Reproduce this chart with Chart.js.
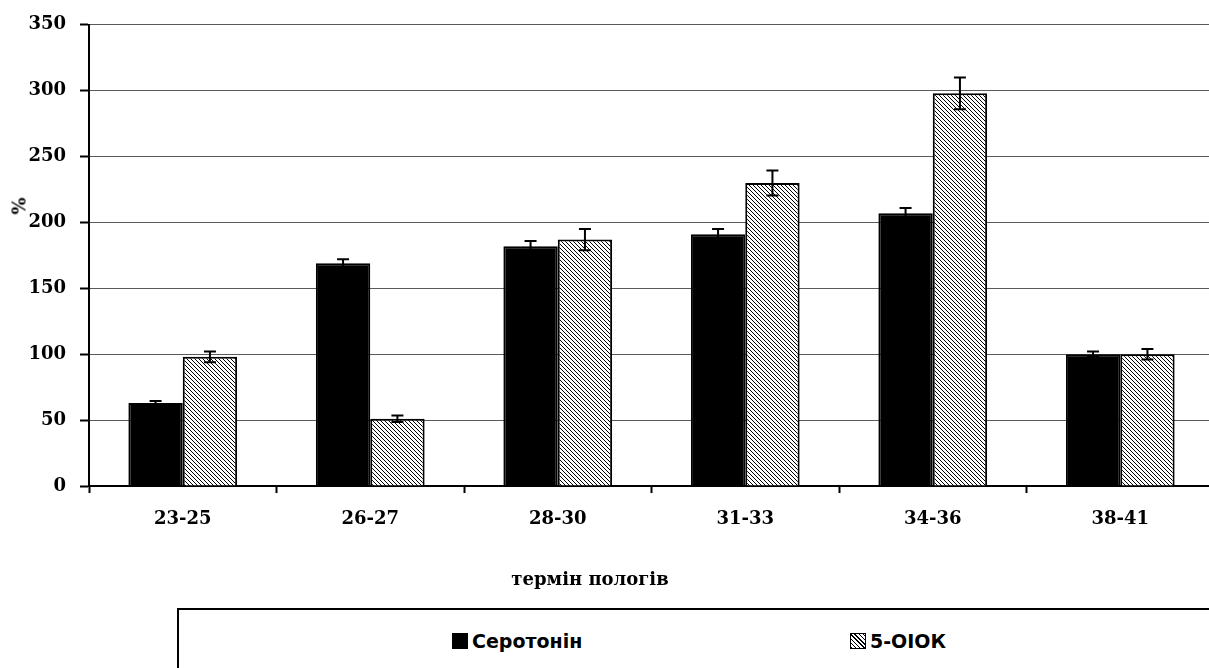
<!DOCTYPE html>
<html lang="uk">
<head>
  <meta charset="UTF-8">
  <title>Серотонін / 5-ОІОК</title>
  <style>
    body { margin: 0; background: #fff; overflow: hidden; }
    .wrap { position: relative; width: 1209px; height: 668px; overflow: hidden; }
    #chart { position: absolute; left: 0; top: 0; }
    .axis-title { position: absolute; font: bold 18px "DejaVu Serif", serif; color: #000; white-space: nowrap; }
    #xTitle { left: 590px; top: 578px; transform: translate(-50%, -50%); }
    #yTitle { left: 19px; top: 206px; transform: translate(-50%, -50%) rotate(-90deg); }
    .legend-box { position: absolute; left: 177px; top: 608px; width: 1100px; height: 120px; border: 2px solid #000; box-sizing: border-box; }
    .legend-item { position: absolute; top: 20px; display: flex; align-items: center; font: bold 19px "DejaVu Sans", sans-serif; color: #000; }
    .legend-item .sw { width: 16px; height: 16px; margin-right: 4px; box-sizing: border-box; border: 1px solid #000; }
    .sw.black { background: #000; }
    .sw.hatch { background: repeating-linear-gradient(45deg, #000 0 1px, #fff 1px 3px); }
  </style>
</head>
<body>
  <div class="wrap">
    <canvas id="chart" width="1214" height="600"></canvas>
    <div class="axis-title" id="yTitle">%</div>
    <div class="axis-title" id="xTitle">термін пологів</div>
    <div class="legend-box">
      <div class="legend-item" style="left:273px"><span class="sw black"></span>Серотонін</div>
      <div class="legend-item" style="left:671px"><span class="sw hatch"></span>5-ОІОК</div>
    </div>
  </div>

  <script src="https://cdn.jsdelivr.net/npm/chart.js"></script>
  <script>
    // дані
    const categories = ['23-25', '26-27', '28-30', '31-33', '34-36', '38-41'];
    const serotonin = [63, 169, 182, 191, 207, 100];
    const serotoninErr = [1.5, 3, 4, 4, 4, 2];
    const oiok = [98, 51, 187, 230, 298, 100];
    const oiokErr = [4, 2.5, 8, 9.5, 12, 4];
    const yTicks = [0, 50, 100, 150, 200, 250, 300, 350];

    // штрихування для другої серії
    const makeHatch = () => {
      const c = document.createElement('canvas');
      c.width = 4; c.height = 4;
      const g = c.getContext('2d');
      g.fillStyle = '#fff';
      g.fillRect(0, 0, 4, 4);
      g.strokeStyle = '#000';
      g.lineWidth = 1;
      g.beginPath();
      g.moveTo(-1, -1); g.lineTo(5, 5);
      g.moveTo(-1, 3); g.lineTo(1, 5);
      g.moveTo(3, -1); g.lineTo(5, 1);
      g.stroke();
      return g.createPattern(c, 'repeat');
    };

    // планки похибок
    const errorBars = {
      id: 'errorBars',
      afterDatasetsDraw(chart) {
        const ctx = chart.ctx;
        const y = chart.scales.y;
        const errs = [serotoninErr, oiokErr];
        ctx.save();
        ctx.strokeStyle = '#000';
        ctx.lineWidth = 2;
        chart.data.datasets.forEach((ds, di) => {
          chart.getDatasetMeta(di).data.forEach((bar, i) => {
            const v = ds.data[i], e = errs[di][i];
            const top = y.getPixelForValue(v + e);
            const bot = y.getPixelForValue(v - e);
            ctx.beginPath();
            ctx.moveTo(bar.x, top); ctx.lineTo(bar.x, bot);
            ctx.moveTo(bar.x - 6, top); ctx.lineTo(bar.x + 6, top);
            ctx.moveTo(bar.x - 6, bot); ctx.lineTo(bar.x + 6, bot);
            ctx.stroke();
          });
        });
        ctx.restore();
      }
    };

    const tickFont = { family: 'DejaVu Serif', size: 18, weight: 'bold' };

    new Chart(document.getElementById('chart'), {
      type: 'bar',
      data: {
        labels: categories,
        datasets: [
          { label: 'Серотонін', data: serotonin, backgroundColor: '#000', borderColor: '#000', borderWidth: 2 },
          { label: '5-ОІОК', data: oiok, backgroundColor: makeHatch(), borderColor: '#000', borderWidth: 2 }
        ]
      },
      options: {
        responsive: false,
        animation: false,
        layout: { padding: { top: 9, left: 0, right: 0, bottom: 0 } },
        datasets: { bar: { categoryPercentage: 0.58, barPercentage: 1 } },
        plugins: { legend: { display: false }, tooltip: { enabled: false } },
        scales: {
          x: {
            grid: { drawOnChartArea: false, offset: true, tickLength: 7, tickColor: '#000', tickWidth: 2 },
            border: { color: '#000', width: 2 },
            ticks: { color: '#000', font: tickFont, padding: 16 },
            afterFit: (s) => { s.height = 114; }
          },
          y: {
            min: 0,
            max: 350,
            afterBuildTicks: (s) => { s.ticks = yTicks.map(v => ({ value: v })); },
            grid: { color: '#5a5a5a', lineWidth: 1, tickLength: 9, tickColor: '#000', tickWidth: 2 },
            border: { color: '#000', width: 2 },
            ticks: { color: '#000', font: tickFont, padding: 14 },
            afterFit: (s) => { s.width = 89; }
          }
        }
      },
      plugins: [errorBars]
    });
  </script>
</body>
</html>
